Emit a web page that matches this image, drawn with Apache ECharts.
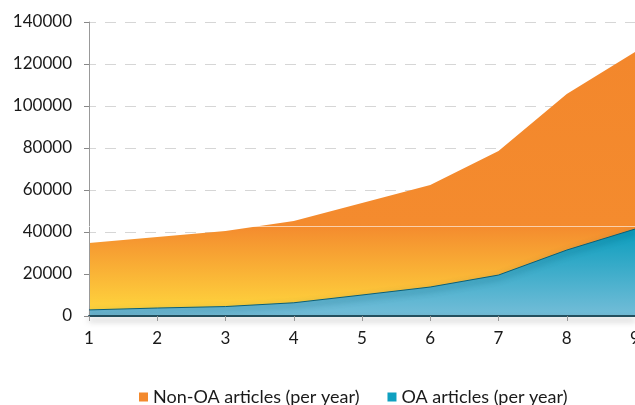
<!DOCTYPE html>
<html>
<head>
<meta charset="utf-8">
<script src="https://cdn.jsdelivr.net/npm/echarts@6/dist/echarts.min.js"></script>
<style>
  html, body { margin: 0; padding: 0; background: #fff; }
  #chart { width: 635px; height: 405px; }
</style>
</head>
<body>
<div id="chart"></div>
<script>
// values
const categories = ['1', '2', '3', '4', '5', '6', '7', '8', '9'];
const nonOaArticles = [34800, 37600, 40500, 45200, 53800, 62400, 78600, 105700, 125700];
const oaArticles = [2900, 3800, 4500, 6300, 10000, 13800, 19500, 31400, 41400];
const yTicks = [0, 20000, 40000, 60000, 80000, 100000, 120000, 140000];

const FONT = 'Lato';
const orange = '#f3892d';
const blue = '#0fa0c0';

const chart = echarts.init(document.getElementById('chart'));

const option = {
  animation: false,
  textStyle: { fontFamily: FONT },
  grid: { left: 89, right: 0, top: 22, bottom: 89, containLabel: false, outerBoundsMode: 'none' },
  legend: {
    top: 383,
    left: 134,
    itemWidth: 9,
    itemHeight: 9,
    itemGap: 28,
    icon: 'rect',
    textStyle: { fontFamily: FONT, fontSize: 18, color: '#1a1a1a' },
    data: [
      { name: 'Non-OA articles (per year)', itemStyle: { color: orange } },
      { name: 'OA articles (per year)', itemStyle: { color: blue } }
    ]
  },
  xAxis: {
    type: 'category',
    data: categories,
    boundaryGap: false,
    z: 3,
    axisLine: {
      lineStyle: {
        color: '#24505f',
        width: 2,
        shadowColor: 'rgba(0,0,0,0.35)',
        shadowBlur: 6,
        shadowOffsetY: 4
      }
    },
    axisTick: { show: true, length: 5, lineStyle: { color: '#999' } },
    axisLabel: { fontFamily: FONT, fontSize: 17, color: '#1a1a1a', margin: 14, hideOverlap: false },
    splitLine: { show: false }
  },
  yAxis: {
    type: 'value',
    min: yTicks[0],
    max: yTicks[yTicks.length - 1],
    interval: yTicks[1] - yTicks[0],
    z: 3,
    axisLine: { show: true, lineStyle: { color: '#999', width: 1 } },
    axisTick: { show: true, length: 5, lineStyle: { color: '#888' } },
    axisLabel: {
      fontFamily: FONT, fontSize: 17, color: '#1a1a1a', margin: 17,
      formatter: v => String(v)
    },
    splitLine: {
      show: true,
      lineStyle: { color: 'rgba(200,200,200,0.75)', type: [11, 9], dashOffset: -16, width: 1 }
    }
  },
  series: [
    {
      name: 'Non-OA articles (per year)',
      type: 'line',
      data: nonOaArticles,
      showSymbol: false,
      itemStyle: { color: orange },
      lineStyle: { width: 0 },
      areaStyle: {
        opacity: 1,
        color: new echarts.graphic.LinearGradient(0, 0, 0, 1, [
          { offset: 0, color: '#f3872c' },
          { offset: 0.66, color: '#f48b2e' },
          { offset: 1, color: '#ffd93e' }
        ])
      },
      markLine: {
        silent: true,
        symbol: 'none',
        label: { show: false },
        lineStyle: { color: 'rgba(255,255,255,0.6)', type: 'solid', width: 1 },
        data: [{ yAxis: 42800 }]
      }
    },
    {
      name: 'OA articles (per year)',
      type: 'line',
      data: oaArticles,
      showSymbol: false,
      itemStyle: { color: blue },
      lineStyle: {
        color: '#0b5f78',
        width: 1,
        shadowColor: 'rgba(0,55,75,0.8)',
        shadowBlur: 6,
        shadowOffsetY: 3
      },
      areaStyle: {
        opacity: 1,
        color: new echarts.graphic.LinearGradient(0, 0, 0, 1, [
          { offset: 0, color: '#0a9dbd' },
          { offset: 1, color: '#74bdd8' }
        ])
      }
    }
  ]
};

chart.setOption(option);
</script>
</body>
</html>
